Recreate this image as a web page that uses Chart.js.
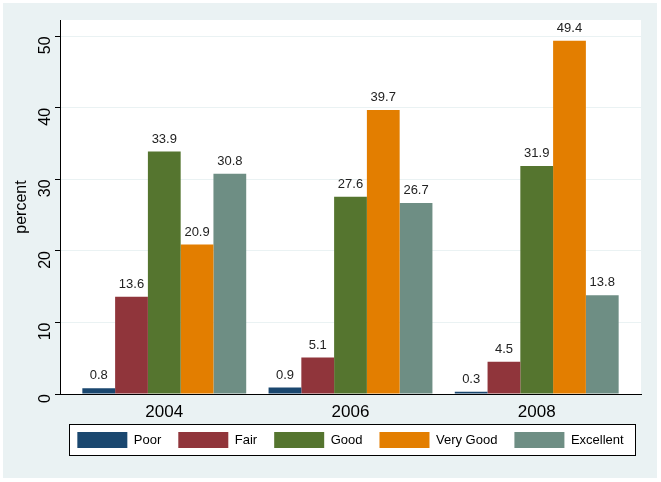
<!DOCTYPE html>
<html>
<head>
<meta charset="utf-8">
<script src="https://cdn.jsdelivr.net/npm/chart.js@4.4.1/dist/chart.umd.min.js"></script>
<style>
  html, body { margin: 0; padding: 0; background: #fff; }
  #wrap { width: 661px; height: 482px; }
</style>
</head>
<body>
<div id="wrap"><canvas id="chart" width="661" height="482"></canvas></div>
<script>
const years = ['2004', '2006', '2008'];
const poor = [0.8, 0.9, 0.3];
const fair = [13.6, 5.1, 4.5];
const good = [33.9, 27.6, 31.9];
const veryGood = [20.9, 39.7, 49.4];
const excellent = [30.8, 26.7, 13.8];
const yTicks = [0, 10, 20, 30, 40, 50];

const toPoints = (arr) => arr.map((v, i) => ({x: i, y: v}));

// outer background, white plot region, bordered legend box
const frame = {
    id: 'frame',
    beforeDraw(chart) {
        const c = chart.ctx;
        const a = chart.chartArea;
        c.save();
        c.fillStyle = '#eaf2f3';
        c.fillRect(3, 3, 654, 475);
        c.fillStyle = '#ffffff';
        c.fillRect(a.left, a.top, a.right - a.left, a.bottom - a.top);
        const boxes = chart.legend.legendHitBoxes;
        if (boxes && boxes.length) {
            const first = boxes[0];
            const last = boxes[boxes.length - 1];
            const x0 = Math.round(first.left - 8);
            const x1 = Math.round(last.left + last.width + 11);
            const y0 = Math.round(first.top - 8);
            c.fillStyle = '#ffffff';
            c.fillRect(x0, y0, x1 - x0, 31);
            c.strokeStyle = '#000000';
            c.lineWidth = 1;
            c.strokeRect(x0 + 0.5, y0 + 0.5, x1 - x0, 31);
        }
        c.restore();
    }
};

// value labels above each bar
const barLabels = {
    id: 'barLabels',
    afterDatasetsDraw(chart) {
        const c = chart.ctx;
        c.save();
        c.font = '13px "Liberation Sans", Arial, sans-serif';
        c.fillStyle = '#222222';
        c.textAlign = 'center';
        c.textBaseline = 'bottom';
        chart.data.datasets.forEach((ds, di) => {
            chart.getDatasetMeta(di).data.forEach((bar, i) => {
                c.fillText(ds.data[i].y.toFixed(1), bar.x, bar.y - 6);
            });
        });
        c.restore();
    }
};

new Chart(document.getElementById('chart'), {
    type: 'bar',
    data: {
        datasets: [
            {label: 'Poor', data: toPoints(poor), backgroundColor: '#1a476f'},
            {label: 'Fair', data: toPoints(fair), backgroundColor: '#90353b'},
            {label: 'Good', data: toPoints(good), backgroundColor: '#55752f'},
            {label: 'Very Good', data: toPoints(veryGood), backgroundColor: '#e37e00'},
            {label: 'Excellent', data: toPoints(excellent), backgroundColor: '#6e8e84'}
        ]
    },
    options: {
        responsive: false,
        animation: false,
        barPercentage: 1,
        categoryPercentage: 0.88,
        layout: {padding: {top: 20, right: 20, left: 0, bottom: 24}},
        plugins: {
            legend: {
                position: 'bottom',
                fullSize: false,
                labels: {
                    boxWidth: 50,
                    boxHeight: 16,
                    padding: 17,
                    color: '#000',
                    font: {family: '"Liberation Sans", Arial, sans-serif', size: 13}
                }
            },
            tooltip: {enabled: false}
        },
        scales: {
            x: {
                type: 'linear',
                offset: false,
                min: -0.56,
                max: 2.56,
                afterBuildTicks: (s) => { s.ticks = years.map((y, i) => ({value: i})); },
                afterFit: (s) => {
                    s.height = 21;
                    // let the year labels run past the short axis box
                    s._computeLabelArea = () => null;
                },
                grid: {display: false, drawTicks: false, tickLength: 0},
                border: {display: true, color: '#000', width: 1},
                ticks: {
                    callback: (v) => years[v],
                    color: '#000',
                    padding: 8,
                    font: {family: '"Liberation Sans", Arial, sans-serif', size: 17}
                }
            },
            y: {
                min: 0,
                max: 52.3,
                afterBuildTicks: (s) => { s.ticks = yTicks.map((v) => ({value: v})); },
                afterFit: (s) => { s.width = 60; },
                grid: {color: '#eaf2f3', tickColor: '#000', tickLength: 5},
                border: {display: true, color: '#000', width: 1},
                ticks: {
                    minRotation: 90,
                    maxRotation: 90,
                    color: '#000',
                    padding: 9,
                    font: {family: '"Liberation Sans", Arial, sans-serif', size: 16}
                },
                title: {
                    display: true,
                    text: 'percent',
                    color: '#000',
                    padding: {top: 12, bottom: 0},
                    font: {family: '"Liberation Sans", Arial, sans-serif', size: 16}
                }
            }
        }
    },
    plugins: [frame, barLabels]
});
</script>
</body>
</html>
